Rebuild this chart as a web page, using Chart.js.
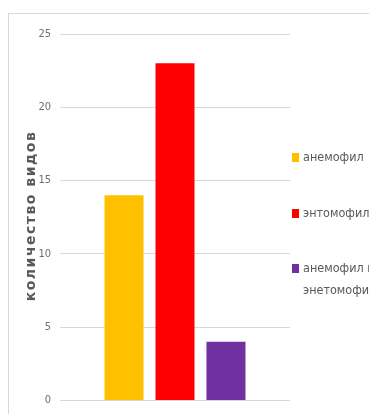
<!DOCTYPE html>
<html>
<head>
<meta charset="utf-8">
<script src="https://cdn.jsdelivr.net/npm/chart.js@4.4.1/dist/chart.umd.min.js"></script>
<style>
    html, body { margin: 0; padding: 0; background: #fff; overflow: hidden; }
    body { width: 369px; height: 414px; position: relative; }
    #marco {
        position: absolute; left: 8px; top: 13px; width: 500px; height: 500px;
        border-top: 1px solid #d9d9d9; border-left: 1px solid #d9d9d9;
    }
    #lienzo { position: absolute; left: 0; top: 0; }
    #titulo {
        position: absolute; left: 30px; top: 216px; width: 240px;
        transform: translate(-50%, -50%) rotate(-90deg);
        text-align: center; white-space: nowrap;
        font-family: 'DejaVu Sans', sans-serif; font-weight: bold;
        font-size: 14px; letter-spacing: 1.5px; color: #595959;
    }
    #leyenda {
        position: absolute; left: 292px; top: 0; width: 120px;
        font-family: 'DejaVu Sans Condensed', 'DejaVu Sans', sans-serif;
        font-size: 12.5px; color: #595959; white-space: nowrap;
    }
    .item { position: absolute; left: 0; padding-left: 11px; line-height: 22px; }
    .caja { position: absolute; left: 0; top: 7px; width: 7px; height: 9px; }
</style>
</head>
<body>
<div id="marco"></div>
<canvas id="lienzo" width="300" height="416"></canvas>
<div id="titulo"></div>
<div id="leyenda"></div>
<script>
// Datos del gráfico
const series = ['анемофил', 'энтомофил', 'анемофил и энетомофил'];
const lineasLeyenda = [['анемофил'], ['энтомофил'], ['анемофил и', 'энетомофил']];
const valores = [14, 23, 4];
const colores = ['#FFC000', '#FF0000', '#7030A0'];
const tituloEje = 'количество видов';
const posLeyenda = [146, 202, 257]; // posición vertical de cada entrada

const ctx = document.getElementById('lienzo').getContext('2d');

new Chart(ctx, {
    type: 'bar',
    data: {
        labels: [''],
        datasets: series.map((nombre, i) => ({
            label: nombre,
            data: [valores[i]],
            backgroundColor: colores[i],
            borderWidth: 0
        }))
    },
    options: {
        responsive: false,
        animation: false,
        categoryPercentage: 0.665,
        barPercentage: 0.765,
        layout: {
            padding: { left: 16, right: 10, top: 34, bottom: 10 }
        },
        plugins: {
            legend: { display: false },
            tooltip: { enabled: false }
        },
        scales: {
            x: { display: false },
            y: {
                min: 0,
                max: 25,
                ticks: {
                    stepSize: 5,
                    padding: 9,
                    color: '#6f6f6f',
                    font: { family: "'DejaVu Sans Condensed', sans-serif", size: 11 }
                },
                grid: { color: '#d9d9d9', lineWidth: 1, drawTicks: false },
                border: { display: false },
                afterFit: (escala) => { escala.width = 44; }
            }
        }
    }
});

// Título del eje Y (texto girado)
document.getElementById('titulo').textContent = tituloEje;

// Leyenda en HTML a la derecha
const leyenda = document.getElementById('leyenda');
lineasLeyenda.forEach((lineas, i) => {
    const div = document.createElement('div');
    div.className = 'item';
    div.style.top = posLeyenda[i] + 'px';
    div.innerHTML = '<span class="caja" style="background:' + colores[i] + '"></span>' +
        lineas.join('<br>');
    leyenda.appendChild(div);
});
</script>
</body>
</html>
